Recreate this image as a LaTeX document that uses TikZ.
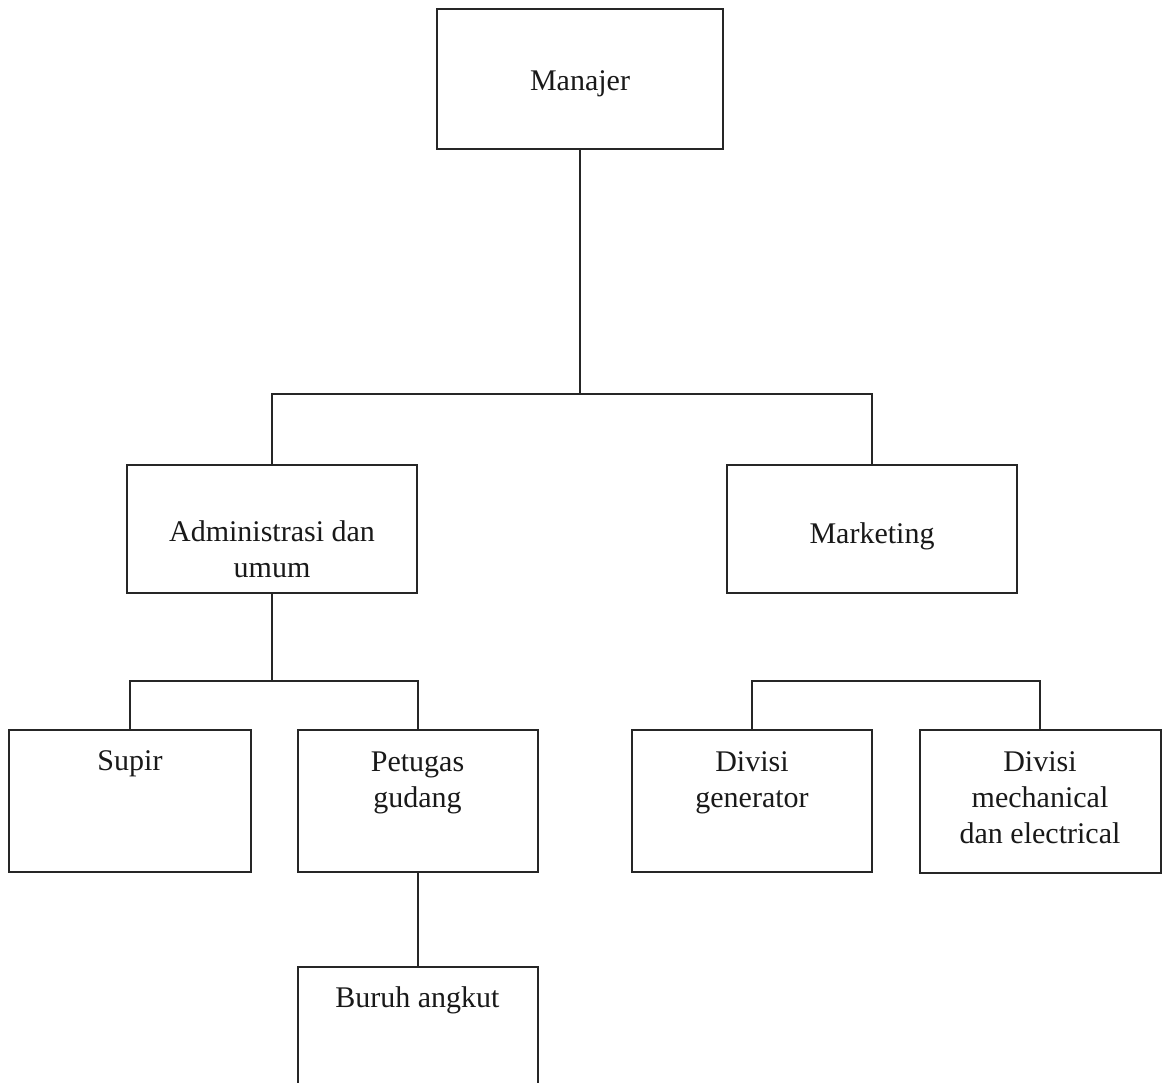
\documentclass[tikz,border=0pt]{standalone}
\usepackage{fontspec}
\setmainfont{Liberation Serif}
\begin{document}
\begin{tikzpicture}[x=1pt,y=-1pt,
  box/.style={draw=black!85, line width=2pt, rectangle, inner sep=0pt},
  lbl/.style={font=\fontsize{30}{36}\selectfont, align=center, anchor=base, inner sep=0pt, text=black!90},
  conn/.style={draw=black!85, line width=2pt}]
\useasboundingbox (0,0) rectangle (1162,1082);
\clip (0,0) rectangle (1162,1082);
\fill[white] (0,0) rectangle (1162,1082);
% boxes
\node[box, minimum width=286pt, minimum height=140pt] (man) at (580,79) {};
\node[box, minimum width=290pt, minimum height=128pt] (adm) at (272,529) {};
\node[box, minimum width=290pt, minimum height=128pt] (mkt) at (872,529) {};
\node[box, minimum width=242pt, minimum height=142pt] (sup) at (130,801) {};
\node[box, minimum width=240pt, minimum height=142pt] (pet) at (417.5,801) {};
\node[box, minimum width=240pt, minimum height=142pt] (dgen) at (752,801) {};
\node[box, minimum width=241pt, minimum height=143pt] (dmech) at (1040,801.5) {};
\node[box, minimum width=240pt, minimum height=140pt] (bur) at (417.5,1037) {};
% labels (anchor base = baseline of the last line)
\node[lbl] (tman) at (580,90) {Manajer};
\node[lbl] (tadm) at (272,577) {Administrasi dan\\umum};
\node[lbl] (tmkt) at (872,543) {Marketing};
\node[lbl] (tsup) at (130,770) {Supir};
\node[lbl] (tpet) at (417.5,807) {Petugas\\gudang};
\node[lbl] (tdgen) at (752,807) {Divisi\\generator};
\node[lbl] (tdmech) at (1040,843) {Divisi\\mechanical\\dan electrical};
\node[lbl] (tbur) at (417.5,1007) {Buruh angkut};
% connectors
\coordinate (b1) at (580,394);
\coordinate (b2) at (272,681);
\coordinate (b3) at (752,681);
\draw[conn] (man.south) -- (b1);
\draw[conn] (adm.north) |- (b1) -| (mkt.north);
\draw[conn] (adm.south) -- (b2);
\draw[conn] (sup.north) |- (b2) -| (pet.north);
\draw[conn] (pet.south) -- (bur.north);
\draw[conn] (dgen.north) -- (b3) -| (dmech.north);
\end{tikzpicture}
\end{document}
